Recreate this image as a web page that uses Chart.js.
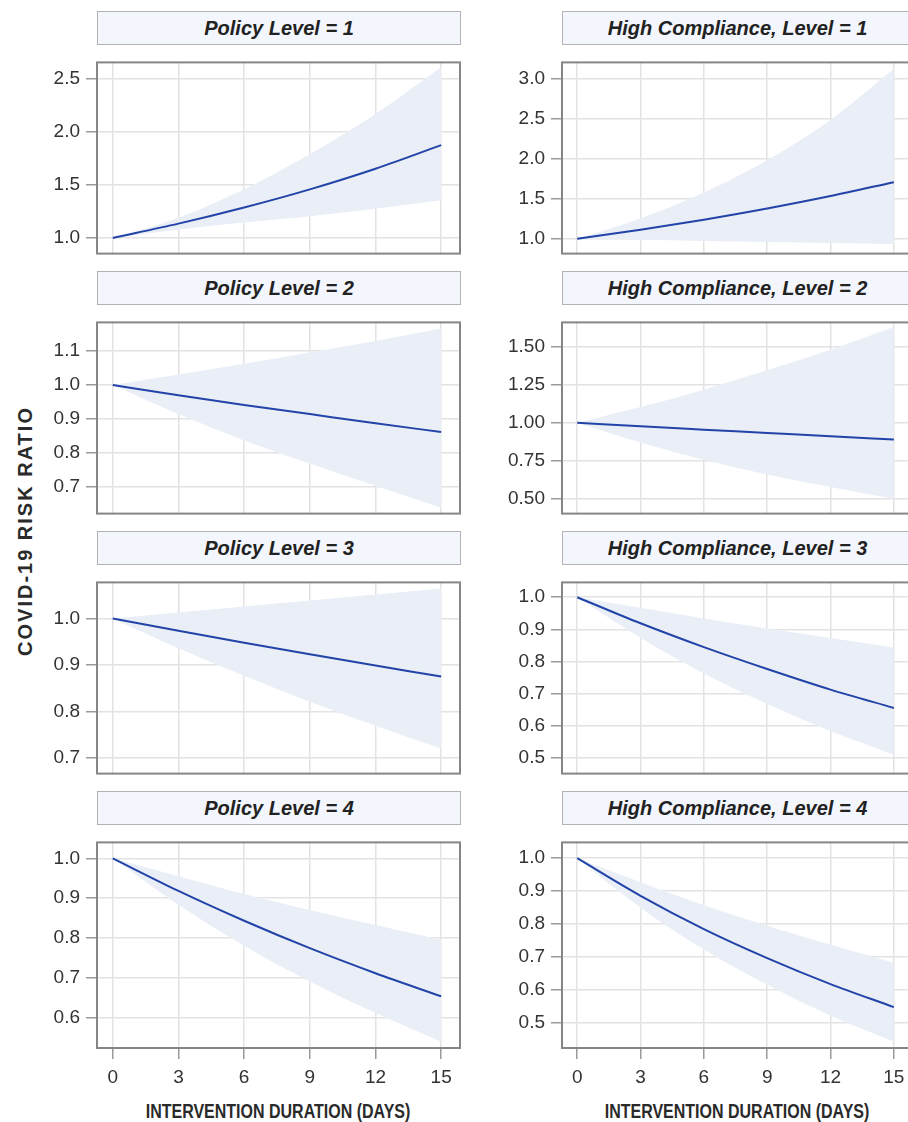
<!DOCTYPE html>
<html>
<head>
<meta charset="utf-8">
<script src="https://cdn.jsdelivr.net/npm/chart.js@4/dist/chart.umd.min.js"></script>
<style>
  html, body { margin: 0; padding: 0; background: #fff; }
  body { width: 908px; height: 1122px; position: relative; overflow: hidden; font-family: "Liberation Sans", Arial, sans-serif; }
  .head { position: absolute; height: 34px; box-sizing: border-box; background: #f3f6fc; border: 1px solid #b3b3b3;
          font: italic bold 20px "Liberation Sans", Arial, sans-serif; color: #222; text-align: center; line-height: 32px; }
  .box { position: absolute; }
  .xtitle { position: absolute; top: 1100px; width: 400px; text-align: center; font: bold 20px "Liberation Sans", Arial, sans-serif;
            color: #2a2a2a; transform: scaleX(0.8); }
  .ytitle { position: absolute; left: 25px; top: 531px; white-space: nowrap; font: bold 20px "Liberation Sans", Arial, sans-serif;
            letter-spacing: 2px; color: #2a2a2a; transform: translate(-50%, -50%) rotate(-90deg); }
</style>
</head>
<body>
<div class="ytitle">COVID-19 RISK RATIO</div>
<div class="xtitle" style="left:78px">INTERVENTION DURATION (DAYS)</div>
<div class="xtitle" style="left:537px">INTERVENTION DURATION (DAYS)</div>
<script>
// days on the x axis
const days = [0, 3, 6, 9, 12, 15];
const xTicks = [0, 3, 6, 9, 12, 15];

// left column: policy level
const pol1Est = [1.00, 1.135, 1.287, 1.458, 1.653, 1.875];
const pol1Up  = [1.00, 1.19, 1.46, 1.79, 2.17, 2.61];
const pol1Lo  = [1.00, 1.08, 1.145, 1.205, 1.275, 1.355];

const pol2Est = [1.00, 0.970, 0.941, 0.914, 0.887, 0.861];
const pol2Up  = [1.00, 1.031, 1.063, 1.096, 1.130, 1.167];
const pol2Lo  = [1.00, 0.914, 0.836, 0.768, 0.702, 0.637];

const pol3Est = [1.00, 0.974, 0.948, 0.923, 0.899, 0.875];
const pol3Up  = [1.00, 1.013, 1.026, 1.039, 1.052, 1.065];
const pol3Lo  = [1.00, 0.936, 0.877, 0.821, 0.769, 0.720];

const pol4Est = [1.00, 0.918, 0.843, 0.774, 0.711, 0.653];
const pol4Up  = [1.00, 0.955, 0.910, 0.870, 0.832, 0.795];
const pol4Lo  = [1.00, 0.883, 0.780, 0.690, 0.611, 0.539];

// right column: high compliance
const hc1Est = [1.00, 1.113, 1.240, 1.380, 1.536, 1.710];
const hc1Up  = [1.00, 1.256, 1.580, 1.985, 2.490, 3.130];
const hc1Lo  = [1.00, 0.987, 0.974, 0.960, 0.948, 0.935];

const hc2Est = [1.00, 0.977, 0.955, 0.933, 0.911, 0.890];
const hc2Up  = [1.00, 1.103, 1.218, 1.345, 1.480, 1.630];
const hc2Lo  = [1.00, 0.870, 0.757, 0.660, 0.578, 0.500];

const hc3Est = [1.00, 0.919, 0.845, 0.777, 0.713, 0.656];
const hc3Up  = [1.00, 0.967, 0.934, 0.903, 0.873, 0.844];
const hc3Lo  = [1.00, 0.874, 0.763, 0.668, 0.584, 0.510];

const hc4Est = [1.00, 0.886, 0.785, 0.697, 0.618, 0.548];
const hc4Up  = [1.00, 0.927, 0.857, 0.795, 0.737, 0.683];
const hc4Lo  = [1.00, 0.850, 0.723, 0.616, 0.523, 0.443];

// y tick labels per panel
const yTicksPol1 = [1.0, 1.5, 2.0, 2.5];
const yTicksPol2 = [0.7, 0.8, 0.9, 1.0, 1.1];
const yTicksPol3 = [0.7, 0.8, 0.9, 1.0];
const yTicksPol4 = [0.6, 0.7, 0.8, 0.9, 1.0];
const yTicksHc1 = [1.0, 1.5, 2.0, 2.5, 3.0];
const yTicksHc2 = [0.50, 0.75, 1.00, 1.25, 1.50];
const yTicksHc3 = [0.5, 0.6, 0.7, 0.8, 0.9, 1.0];
const yTicksHc4 = [0.5, 0.6, 0.7, 0.8, 0.9, 1.0];

const panels = [
  { col: 0, row: 0, title: 'Policy Level = 1', est: pol1Est, up: pol1Up, lo: pol1Lo, ticks: yTicksPol1, min: 0.852, max: 2.656, dec: 1 },
  { col: 0, row: 1, title: 'Policy Level = 2', est: pol2Est, up: pol2Up, lo: pol2Lo, ticks: yTicksPol2, min: 0.62, max: 1.185, dec: 1 },
  { col: 0, row: 2, title: 'Policy Level = 3', est: pol3Est, up: pol3Up, lo: pol3Lo, ticks: yTicksPol3, min: 0.666, max: 1.078, dec: 1 },
  { col: 0, row: 3, title: 'Policy Level = 4', est: pol4Est, up: pol4Up, lo: pol4Lo, ticks: yTicksPol4, min: 0.523, max: 1.04, dec: 1 },
  { col: 1, row: 0, title: 'High Compliance, Level = 1', est: hc1Est, up: hc1Up, lo: hc1Lo, ticks: yTicksHc1, min: 0.815, max: 3.21, dec: 1 },
  { col: 1, row: 1, title: 'High Compliance, Level = 2', est: hc2Est, up: hc2Up, lo: hc2Lo, ticks: yTicksHc2, min: 0.403, max: 1.66, dec: 2 },
  { col: 1, row: 2, title: 'High Compliance, Level = 3', est: hc3Est, up: hc3Up, lo: hc3Lo, ticks: yTicksHc3, min: 0.452, max: 1.046, dec: 1 },
  { col: 1, row: 3, title: 'High Compliance, Level = 4', est: hc4Est, up: hc4Up, lo: hc4Lo, ticks: yTicksHc4, min: 0.424, max: 1.048, dec: 1 }
];

// column geometry: canvas left, canvas width, y-axis width
const cols = [
  { left: 0, width: 463, axisW: 97 },
  { left: 470, width: 445, axisW: 92 }
];

const LINE = '#2243a8';
const BAND = '#e9eef7';
const GRID = '#e3e3e3';
const TICKMARK = '#9a9a9a';
const TICKFONT = { family: 'Liberation Sans', size: 19 };

const framePlugin = {
  id: 'frame',
  afterDraw(chart) {
    const { ctx, chartArea: a } = chart;
    ctx.save();
    ctx.strokeStyle = '#868686';
    ctx.lineWidth = 2;
    ctx.strokeRect(a.left, a.top, a.right - a.left, a.bottom - a.top);
    ctx.restore();
  }
};

const pts = arr => days.map((d, i) => ({ x: d, y: arr[i] }));

panels.forEach(p => {
  const c = cols[p.col];
  const plotTop = 48 + 260 * p.row;
  const bottomRow = p.row === 3;

  const head = document.createElement('div');
  head.className = 'head';
  head.style.left = (c.left + c.axisW) + 'px';
  head.style.top = (plotTop - 37) + 'px';
  head.style.width = (c.width - 3 - c.axisW + 1) + 'px';
  head.textContent = p.title;
  document.body.appendChild(head);

  const box = document.createElement('div');
  box.className = 'box';
  const h = bottomRow ? 220 + 3 + 45 : 220 + 6;
  box.style.left = c.left + 'px';
  box.style.top = (plotTop - 3) + 'px';
  const canvas = document.createElement('canvas');
  canvas.width = c.width;
  canvas.height = h;
  box.appendChild(canvas);
  document.body.appendChild(box);

  new Chart(canvas, {
    type: 'line',
    data: {
      datasets: [
        { data: pts(p.est), borderColor: LINE, borderWidth: 2, pointRadius: 0, fill: false, cubicInterpolationMode: 'monotone' },
        { data: pts(p.up), borderWidth: 0, pointRadius: 0, backgroundColor: BAND, fill: '+1', cubicInterpolationMode: 'monotone' },
        { data: pts(p.lo), borderWidth: 0, pointRadius: 0, fill: false, cubicInterpolationMode: 'monotone' }
      ]
    },
    options: {
      responsive: false,
      animation: false,
      layout: { padding: { top: 3, right: 3, bottom: bottomRow ? 0 : 3, left: 0 } },
      plugins: { legend: { display: false }, tooltip: { enabled: false } },
      scales: {
        x: {
          type: 'linear',
          min: -0.72,
          max: 15.86,
          afterBuildTicks: s => { s.ticks = xTicks.map(v => ({ value: v })); },
          afterFit: s => { s.height = bottomRow ? 45 : 0; },
          border: { display: false },
          grid: { color: GRID, lineWidth: 1.5, drawTicks: bottomRow, tickLength: 11, tickColor: TICKMARK },
          ticks: { display: bottomRow, padding: 7, color: '#333', font: TICKFONT, maxRotation: 0 }
        },
        y: {
          min: p.min,
          max: p.max,
          afterBuildTicks: s => { s.ticks = p.ticks.map(v => ({ value: v })); },
          afterFit: s => { s.width = c.axisW; },
          border: { display: false },
          grid: { color: GRID, lineWidth: 1.5, tickLength: 11, tickColor: TICKMARK },
          ticks: { padding: 6, color: '#333', font: TICKFONT, callback: v => Number(v).toFixed(p.dec) }
        }
      }
    },
    plugins: [framePlugin]
  });
});
</script>
</body>
</html>
